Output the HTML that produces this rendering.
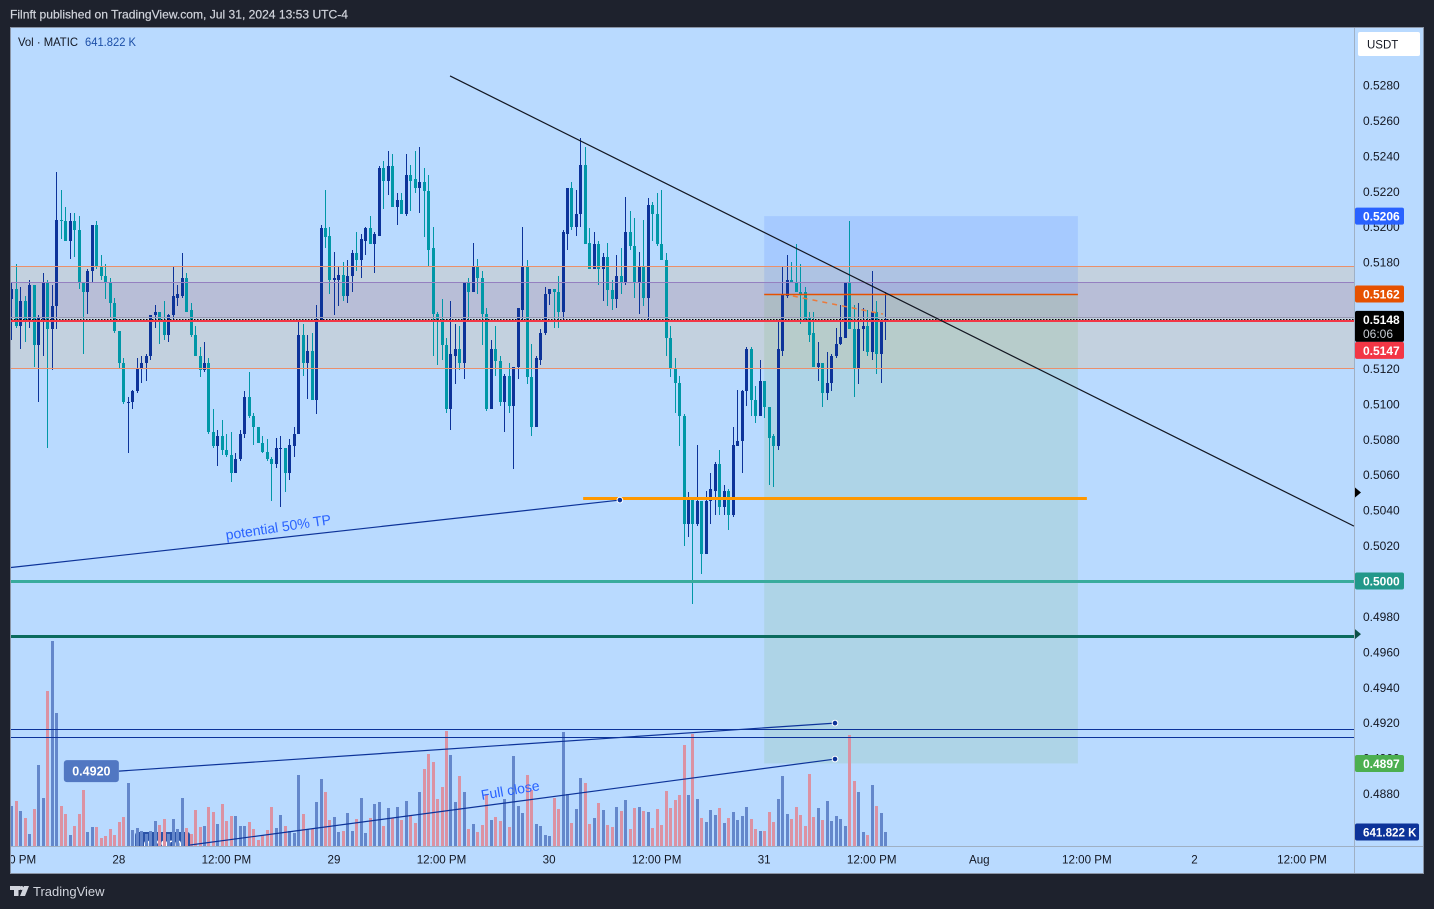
<!DOCTYPE html>
<html lang="en">
<head>
<meta charset="utf-8">
<title>MATIC chart</title>
<style>
html,body{margin:0;padding:0;width:1434px;height:909px;overflow:hidden;background:#1e222d}
svg{position:absolute;left:0;top:0;display:block}
text{font-family:"Liberation Sans",sans-serif}
</style>
</head>
<body>
<svg id="chart" width="1434" height="909" viewBox="0 0 1434 909" xmlns="http://www.w3.org/2000/svg">
  <defs>
    <clipPath id="pane-clip"><rect x="11" y="28" width="1343" height="818"></rect></clipPath>
    <clipPath id="time-clip"><rect x="11" y="847" width="1343" height="26"></rect></clipPath>
  </defs>
  <text x="10" y="18.5" font-size="12" fill="#d1d4dc" stroke="#d1d4dc" stroke-width="0.2" textLength="338" lengthAdjust="spacingAndGlyphs">Filnft published on TradingView.com, Jul 31, 2024 13:53 UTC-4</text>
  <rect x="10.5" y="27.5" width="1413" height="846" fill="#b9daff" stroke="#8a94a5"></rect>
  <g id="pane" clip-path="url(#pane-clip)"></g>
  <g id="time-axis" clip-path="url(#time-clip)"></g>
  <line x1="1354.5" y1="28" x2="1354.5" y2="873" stroke="#9fb0c4"></line>
  <line x1="11" y1="846.5" x2="1423" y2="846.5" stroke="#9fb0c4"></line>
  <g id="price-axis"></g>
  <text x="18" y="46" font-size="12" fill="#131722" textLength="60" lengthAdjust="spacingAndGlyphs">Vol · MATIC</text>
  <text x="85" y="46" font-size="12" fill="#1c4fa8" textLength="51" lengthAdjust="spacingAndGlyphs">641.822 K</text>
  <g>
    <rect x="1358" y="32" width="62" height="24" rx="2" fill="#ffffff"></rect>
    <text x="1367" y="48.5" font-size="11.5" fill="#131722">USDT</text>
  </g>
  <g>
    <rect x="10" y="886" width="10" height="4" fill="#d1d4dc"></rect>
    <rect x="14" y="886" width="4.5" height="10" fill="#d1d4dc"></rect>
    <circle cx="21.5" cy="888" r="2" fill="#d1d4dc"></circle>
    <polygon points="24,886 29,886 25,896 20,896" fill="#d1d4dc"></polygon>
    <text x="33" y="896" font-size="13" fill="#d1d4dc">TradingView</text>
  </g>
</svg>
<script>
// Prices are expressed in units of 0.0001 USDT; one entry per 30-minute bar.
const openPrices = [
5159,5165,5144,5158,5146,5167,5133,5148,5168,5142,
5155,5204,5203,5192,5203,5198,5168,5163,5175,5201,
5177,5172,5168,5157,5141,5123,5101,5101,5107,5120,
5123,5127,5150,5152,5146,5139,5150,5160,5161,5171,
5153,5139,5127,5119,5123,5084,5076,5082,5074,5071,
5061,5069,5083,5104,5093,5087,5078,5073,5069,5066,
5075,5075,5061,5076,5083,5139,5123,5130,5102,5147,
5199,5195,5170,5170,5173,5161,5172,5185,5181,5192,
5199,5190,5195,5233,5226,5234,5211,5215,5207,5229,
5227,5222,5225,5220,5188,5151,5146,5133,5097,5127,
5131,5123,5168,5163,5178,5171,5151,5097,5131,5124,
5101,5116,5099,5121,5153,5178,5115,5087,5125,5140,
5162,5165,5163,5152,5196,5222,5200,5207,5235,5191,
5176,5190,5176,5183,5164,5159,5172,5168,5197,5189,
5168,5178,5160,5212,5207,5190,5181,5137,5120,5112,
5093,5032,5047,5032,5045,5015,5045,5051,5066,5042,
5051,5037,5076,5079,5107,5131,5102,5093,5113,5098,
5082,5076,5130,5161,5170,5169,5163,5163,5149,5140,
5121,5123,5106,5112,5127,5134,5137,5168,5142,5120,
5142,5144,5129,5152,5128,5147];
const highPrices = [
5169,5179,5166,5161,5170,5167,5150,5174,5170,5167,
5231,5221,5211,5208,5208,5206,5168,5176,5201,5203,
5184,5179,5171,5160,5141,5126,5104,5108,5126,5127,
5128,5150,5156,5152,5158,5151,5178,5167,5185,5174,
5157,5144,5132,5135,5126,5097,5085,5091,5083,5084,
5072,5085,5107,5118,5095,5087,5082,5080,5070,5081,
5082,5075,5080,5087,5146,5145,5139,5140,5156,5201,
5221,5200,5186,5177,5180,5181,5187,5197,5196,5200,
5206,5197,5234,5237,5243,5241,5219,5219,5241,5235,
5243,5245,5233,5229,5200,5152,5159,5137,5158,5145,
5144,5168,5171,5191,5182,5175,5154,5136,5144,5127,
5117,5123,5121,5154,5200,5181,5134,5127,5142,5166,
5165,5165,5172,5198,5222,5225,5221,5250,5245,5199,
5197,5192,5185,5191,5170,5184,5188,5217,5209,5205,
5186,5204,5216,5214,5219,5221,5185,5144,5126,5116,
5094,5050,5047,5077,5045,5051,5061,5067,5074,5054,
5052,5087,5108,5108,5132,5132,5110,5125,5113,5098,
5083,5146,5178,5184,5180,5190,5179,5166,5152,5152,
5135,5123,5129,5128,5143,5156,5169,5203,5156,5157,
5154,5153,5175,5158,5147,5163];
const lowPrices = [
5136,5143,5131,5135,5143,5121,5101,5127,5075,5119,
5142,5193,5192,5182,5183,5165,5128,5151,5169,5176,
5170,5159,5149,5140,5120,5100,5072,5097,5106,5112,
5113,5125,5143,5134,5136,5135,5147,5155,5160,5152,
5138,5127,5115,5118,5083,5075,5065,5071,5070,5056,
5061,5068,5081,5092,5077,5078,5072,5068,5045,5064,
5042,5050,5057,5070,5083,5116,5103,5102,5094,5147,
5188,5162,5150,5155,5158,5157,5163,5175,5171,5184,
5190,5174,5195,5210,5218,5211,5201,5207,5206,5209,
5219,5208,5194,5177,5127,5122,5125,5095,5085,5111,
5119,5114,5146,5163,5162,5133,5096,5097,5116,5099,
5084,5095,5063,5114,5146,5111,5082,5087,5122,5139,
5156,5143,5143,5147,5187,5198,5195,5200,5190,5176,
5176,5167,5158,5155,5153,5154,5162,5167,5187,5160,
5151,5155,5146,5192,5189,5181,5127,5115,5095,5076,
5020,5025,4987,5031,5004,5015,5032,5037,5037,5037,
5029,5036,5076,5061,5099,5093,5089,5093,5092,5054,
5053,5074,5127,5160,5168,5163,5145,5146,5135,5121,
5113,5098,5102,5107,5126,5133,5137,5142,5104,5111,
5130,5127,5125,5117,5112,5136];
const closePrices = [
5165,5144,5158,5146,5167,5133,5149,5168,5142,5155,
5204,5203,5192,5203,5198,5168,5163,5175,5201,5177,
5172,5168,5157,5141,5123,5101,5101,5107,5120,5123,
5127,5150,5152,5146,5139,5150,5161,5162,5171,5152,
5139,5127,5119,5123,5084,5076,5082,5074,5071,5061,
5069,5083,5104,5093,5087,5078,5073,5069,5066,5075,
5075,5061,5077,5083,5139,5123,5130,5102,5148,5199,
5194,5170,5171,5173,5161,5172,5185,5181,5193,5199,
5190,5196,5233,5226,5234,5211,5215,5207,5229,5226,
5222,5225,5220,5187,5151,5146,5133,5097,5128,5131,
5123,5168,5163,5178,5171,5151,5097,5131,5124,5101,
5116,5099,5121,5154,5178,5115,5087,5126,5140,5162,
5165,5163,5152,5197,5222,5200,5207,5235,5190,5176,
5190,5176,5183,5164,5159,5172,5168,5197,5189,5168,
5178,5160,5212,5207,5190,5181,5137,5120,5112,5093,
5032,5047,5032,5045,5015,5045,5052,5066,5042,5051,
5037,5077,5079,5107,5131,5102,5093,5113,5098,5081,
5076,5131,5162,5170,5168,5163,5162,5148,5139,5121,
5123,5106,5112,5127,5134,5138,5168,5142,5120,5142,
5144,5129,5152,5128,5147,5148];
// Volume in thousands of MATIC.
const volumeK = [
1834,2063,1604,1284,550,1696,3713,2200,7105,9397,
6097,1834,1467,504,917,1467,2567,642,871,871,
367,458,779,504,1100,1329,2888,733,825,688,
550,688,1146,963,1238,550,1238,779,2200,825,
550,1650,871,917,1788,1559,1008,1925,1146,1375,
1375,917,917,1100,779,275,504,733,1788,825,
1421,917,688,596,3255,1467,779,779,2017,3071,
2475,1192,1329,642,688,1513,688,1238,2200,596,
1284,1925,2017,917,1742,1284,1788,1192,2063,1421,
1054,2475,3530,4217,3851,2154,2705,5272,4171,2017,
3209,2475,779,1008,642,963,2384,1192,1329,1146,
2154,871,4126,1834,1513,3255,2567,1008,917,504,
458,2200,1696,5226,2384,1054,1696,3117,2888,1008,
1284,1971,1650,963,871,1788,1604,2109,779,1742,
1788,1604,1559,825,1696,963,2521,1742,2109,2338,
4630,2338,5134,2154,1284,1100,1650,1421,1742,1054,
1284,1559,1192,1375,1788,1238,779,688,688,1559,
1100,2154,3209,1467,1238,1788,1421,917,3300,1329,
1742,1192,2063,1146,1375,1238,917,5088,2980,2475,
642,504,2796,1834,1513,642];
const priceTicks = [5280,5260,5240,5220,5200,5180,5160,5140,5120,5100,5080,5060,5040,5020,5000,4980,4960,4940,4920,4900,4880];
const priceTickLabels = ["0.5280","0.5260","0.5240","0.5220","0.5200","0.5180","0.5160","0.5140","0.5120","0.5100","0.5080","0.5060","0.5040","0.5020","0.5000","0.4980","0.4960","0.4940","0.4920","0.4900","0.4880"];
const timeTickBars = [0,24,48,72,96,120,144,168,192,216,240,264,288];
const timeTickLabels = ["12:00 PM","28","12:00 PM","29","12:00 PM","30","12:00 PM","31","12:00 PM","Aug","12:00 PM","2","12:00 PM"];
const tagPrices = [5206,5162,5000,4897];
const tagLabels = ["0.5206","0.5162","0.5000","0.4897"];
const tagColors = ["#2962ff","#e65100","#22988a","#4caf50"];
const lastPrice = 5148;
const markPrice = 5147;
const countdownLabel = "06:06";
const lastVolumeK = 641.822;
// Drawing anchors: [bar index, price].
const resistanceZone = [5178,5120];
const innerZone = [5168.8,5149];
const positionBars = [168,238];
const positionPrices = [5206,5162,4897];
const supportLine = [127.6,240,5046.7];
const zeroLevel = 5000;
const deepLevel = 4969;
const navyLevels = [4916.2,4911.7];
const trendLine = [[97.9,5285.1],[299.6,5031]];
const tpLine = [[-0.1,5007.6],[135.8,5045.7]];
const closeLineA = [[24,4892.7],[183.8,4919.8]];
const closeLineB = [[39.9,4851],[183.8,4899.5]];
const fadeLine = [[174.4,5160.9],[194.5,5150.7]];
const axisMarkers = [5050,4970];

const ns = 'http://www.w3.org/2000/svg';
const pane = document.getElementById('pane');
const timeAxis = document.getElementById('time-axis');
const priceAxis = document.getElementById('price-axis');
const x = i => 11.3 + i * 4.4815;
const y = p => 85 + (5280 - p) * 1.7715;
const volY = v => 846 - v / 45.84;
const snapOdd = v => Math.round(v) + 0.5;
function mk(parent, tag, attrs) {
  const el = document.createElementNS(ns, tag);
  for (const k in attrs) el.setAttribute(k, attrs[k]);
  parent.appendChild(el);
  return el;
}
function drawSegment(seg, stroke, width, dash, name) {
  const el = mk(pane, 'line', {x1: x(seg[0][0]), y1: y(seg[0][1]), x2: x(seg[1][0]), y2: y(seg[1][1]), stroke: stroke, 'stroke-width': width});
  if (dash) el.setAttribute('stroke-dasharray', dash);
  
  
  return el;
}
function drawLevel(level, stroke, width, name, dash) {
  const ly = width % 2 ? snapOdd(y(level)) : Math.round(y(level));
  const el = mk(pane, 'line', {x1: 11, x2: 1354, y1: ly, y2: ly, stroke: stroke, 'stroke-width': width});
  if (dash) el.setAttribute('stroke-dasharray', dash);
  
  
  return el;
}
function drawHandle(pt) {
  const el = mk(pane, 'circle', {cx: x(pt[0]), cy: y(pt[1]), r: 2.8, fill: '#0d3399', stroke: '#ffffff', 'stroke-width': 1});
  
  
}
function drawCallout(pt, text, fill, name, topGap) {
  const cy = y(pt[1]);
  const box = mk(pane, 'rect', {x: x(pt[0]) - 55, y: cy - topGap, width: 55, height: 22, rx: 3, fill: fill});
  
  
  const t = mk(pane, 'text', {x: x(pt[0]) - 27.5, y: cy + 4.5, 'font-size': 12.5, 'font-weight': 'bold', fill: '#ffffff', 'text-anchor': 'middle'});
  t.textContent = text;
  
  
}

// Zones
const outerBand = mk(pane, 'rect', {x: 11, width: 1343, y: snapOdd(y(resistanceZone[0])), height: snapOdd(y(resistanceZone[1])) - snapOdd(y(resistanceZone[0])), fill: 'rgba(255,163,40,.15)'});


const innerBand = mk(pane, 'rect', {x: 11, width: 1343, y: snapOdd(y(innerZone[0])), height: snapOdd(y(innerZone[1])) - snapOdd(y(innerZone[0])), fill: 'rgba(141,114,187,.2)'});



// Position tool
const profitBox = mk(pane, 'rect', {x: x(positionBars[0]), width: x(positionBars[1]) - x(positionBars[0]), y: y(positionPrices[0]), height: y(positionPrices[1]) - y(positionPrices[0]), fill: 'rgba(41,98,255,.13)'});


const targetBox = mk(pane, 'rect', {x: x(positionBars[0]), width: x(positionBars[1]) - x(positionBars[0]), y: y(positionPrices[1]), height: y(positionPrices[2]) - y(positionPrices[1]), fill: 'rgba(117,184,94,.15)'});



// Callout under the volume bars
drawCallout(closeLineB[0], '0.4900', '#2b53a8', 'callout-0-4900', 13);

// Volume
for (let i = 0; i < volumeK.length; i++) {
  const up = closePrices[i] >= openPrices[i];
  const cx = Math.round(x(i));
  const top = Math.round(volY(volumeK[i]));
  const bar = mk(pane, 'rect', {x: cx - 1, y: top, width: 3, height: 846 - top, fill: up ? '#6487cb' : '#db92a3'});
  
  
}

// Candles
for (let i = 0; i < openPrices.length; i++) {
  const up = closePrices[i] >= openPrices[i];
  const color = up ? '#0d3399' : '#0097a7';
  const cx = Math.round(x(i));
  const g = mk(pane, 'g', {});
  
  
  const wTop = Math.round(y(highPrices[i]));
  const wBot = Math.round(y(lowPrices[i]));
  const wick = mk(g, 'rect', {x: cx, y: wTop, width: 1, height: Math.max(1, wBot - wTop), fill: color});
  
  
  const top = Math.round(y(Math.max(openPrices[i], closePrices[i])));
  const bottom = Math.round(y(Math.min(openPrices[i], closePrices[i])));
  const body = mk(g, 'rect', {x: cx - 1, y: top, width: 3, height: Math.max(1, bottom - top), fill: color});
  
  
}

// Lines on top
drawLevel(resistanceZone[0], '#ea906c', 1, 'zone-top-line');
drawLevel(resistanceZone[1], '#ea906c', 1, 'zone-bottom-line');
drawLevel(innerZone[0], '#9580c0', 1, 'inner-zone-top-line');
drawLevel(innerZone[1], '#9a9ab5', 1, 'inner-zone-bottom-line');
drawLevel(markPrice, '#f23645', 2, 'mark-price-line');
drawLevel(lastPrice, '#000000', 1, 'last-price-line', '1.5 1.5');
drawLevel(zeroLevel, '#39ab9d', 3, 'level-0-5000-line');
drawLevel(deepLevel, '#0b6b5e', 3, 'level-0-4970-line');
drawLevel(navyLevels[0], '#0d3399', 1, 'navy-level-upper');
drawLevel(navyLevels[1], '#0d3399', 1, 'navy-level-lower');

const entryY = snapOdd(y(positionPrices[1]));
const entryLine = mk(pane, 'line', {x1: x(positionBars[0]), x2: x(positionBars[1]), y1: entryY, y2: entryY, stroke: '#e65100', 'stroke-width': 1.5});


const supportY = snapOdd(y(supportLine[2]));
const support = mk(pane, 'line', {x1: x(supportLine[0]), x2: x(supportLine[1]), y1: supportY, y2: supportY, stroke: '#ff9800', 'stroke-width': 3});



drawSegment(fadeLine, '#ea7a3c', 1.5, '5 5', 'position-path-dashed');
drawSegment(trendLine, '#131722', 1.2, null, 'descending-trend-line');
drawSegment(tpLine, '#0d3399', 1.2, null, 'take-profit-line');
drawSegment(closeLineA, '#0d3399', 1.2, null, 'callout-0-4920-line');
drawSegment(closeLineB, '#0d3399', 1.2, null, 'full-close-line');
drawHandle(tpLine[1]);
drawHandle(closeLineA[1]);
drawHandle(closeLineB[1]);
drawCallout(closeLineA[0], '0.4920', '#5177c2', 'callout-0-4920', 11);

const tpText = mk(pane, 'text', {x: 279, y: 532, 'font-size': 14, fill: '#2962ff', 'text-anchor': 'middle', transform: 'rotate(-8.5 279 532)'});
tpText.textContent = 'potential 50% TP';


const closeText = mk(pane, 'text', {x: 511, y: 795, 'font-size': 14, fill: '#2962ff', 'text-anchor': 'middle', transform: 'rotate(-9.7 511 795)'});
closeText.textContent = 'Full close';



// Time axis
for (let i = 0; i < timeTickBars.length; i++) {
  const t = mk(timeAxis, 'text', {x: x(timeTickBars[i]), y: 863.5, 'font-size': 11.6, fill: '#131722', 'text-anchor': 'middle'});
  t.textContent = timeTickLabels[i];
  
  
}

// Price axis
for (let i = 0; i < priceTicks.length; i++) {
  const t = mk(priceAxis, 'text', {x: 1363, y: y(priceTicks[i]) + 4.5, 'font-size': 12, fill: '#131722'});
  t.textContent = priceTickLabels[i];
  
  
}
for (let i = 0; i < axisMarkers.length; i++) {
  const my = y(axisMarkers[i]);
  const m = mk(priceAxis, 'polygon', {points: '1355,' + (my - 5) + ' 1361,' + my + ' 1355,' + (my + 5), fill: i === 0 ? '#000000' : '#0b4f46'});
  
  
}
function drawTag(topY, height, width, fill, text, name) {
  const r = mk(priceAxis, 'rect', {x: 1355, y: topY, width: width, height: height, rx: 2, fill: fill});
  
  
  const t = mk(priceAxis, 'text', {x: 1363, y: topY + 13, 'font-size': 12, 'font-weight': 'bold', fill: '#ffffff'});
  t.textContent = text;
  if (width > 49) t.setAttribute('font-size', 11.6);
  
  
}
for (let i = 0; i < tagPrices.length; i++) {
  drawTag(y(tagPrices[i]) - 8.5, 17, 49, tagColors[i], tagLabels[i], 'price-' + tagLabels[i].replace('.', '-'));
}
const lastTop = y(lastPrice) - 8;
const lastBox = mk(priceAxis, 'rect', {x: 1355, y: lastTop, width: 49, height: 31, rx: 2, fill: '#000000'});


const lastText = mk(priceAxis, 'text', {x: 1363, y: lastTop + 13, 'font-size': 12, 'font-weight': 'bold', fill: '#ffffff'});
lastText.textContent = (lastPrice / 10000).toFixed(4);


const cdText = mk(priceAxis, 'text', {x: 1363, y: lastTop + 27, 'font-size': 12, fill: '#c8ccd4'});
cdText.textContent = countdownLabel;


drawTag(lastTop + 31, 17, 49, '#f23645', (markPrice / 10000).toFixed(4), 'mark-price');
drawTag(volY(lastVolumeK) - 8.5, 17, 64, '#0d3399', lastVolumeK.toFixed(3) + ' K', 'last-volume');
</script>
</body>
</html>
